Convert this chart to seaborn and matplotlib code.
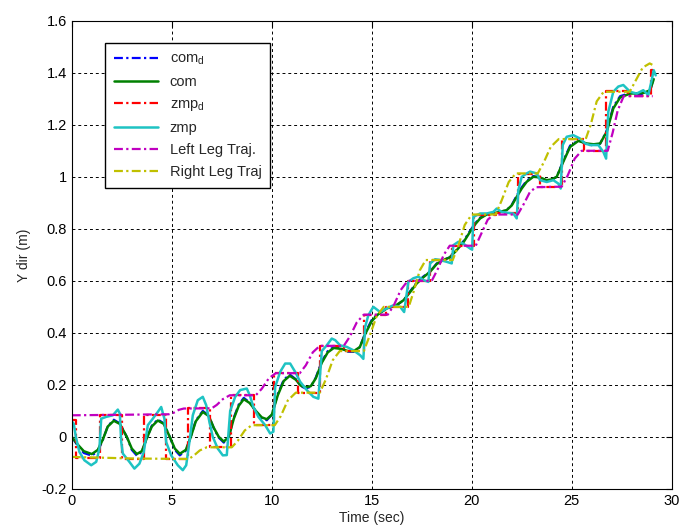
import numpy as np
import matplotlib
matplotlib.use("Agg")
import matplotlib.pyplot as plt
import seaborn as sns

# ---------------------------
# DATA
# ---------------------------
# desired ZMP: switching times and the level held from each time on
zmpd_t = [0, 0.2, 1.4, 2.5, 3.6, 4.7, 5.8, 6.9, 7.95, 9.1, 10.1, 11.3, 12.4, 13.6,
          14.6, 15.7, 16.8, 17.9, 19.0, 20.1, 21.2, 22.3, 23.4, 24.5, 25.6, 26.7,
          27.8, 28.95, 29.1]
zmpd_y = [0.065, -0.08, 0.085, -0.085, 0.085, -0.085, 0.11, -0.04, 0.16, 0.045, 0.245,
          0.17, 0.35, 0.33, 0.47, 0.5, 0.6, 0.68, 0.735, 0.855, 0.86, 1.01, 0.96, 1.145,
          1.1, 1.33, 1.31, 1.41, 1.41]

com_t = [0, 0.3, 0.6, 1.0, 1.3, 1.55, 1.8, 2.1, 2.4, 2.75, 3.0, 3.25, 3.5, 3.75, 4.0,
         4.3, 4.6, 4.9, 5.15, 5.4, 5.7, 5.95, 6.2, 6.55, 6.85, 7.1, 7.35, 7.6, 7.85,
         8.1, 8.35, 8.6, 8.9, 9.2, 9.5, 9.75, 10.0, 10.3, 10.6, 10.9, 11.2, 11.45,
         11.7, 11.95, 12.2, 12.5, 12.8, 13.1, 13.5, 13.8, 14.1, 14.4, 14.7, 15.0, 15.3,
         15.75, 16.2, 16.6, 16.9, 17.25, 17.6, 17.92, 18.25, 18.58, 18.9, 19.25, 19.6,
         19.92, 20.2, 20.42, 20.75, 21.08, 21.4, 21.75, 22.0, 22.25, 22.5, 22.75,
         23.08, 23.4, 23.75, 24.0, 24.25, 24.58, 24.92, 25.33, 25.75, 26.1, 26.42,
         26.75, 27.08, 27.42, 27.92, 28.58, 28.92, 29.1]
com_y = [0.0, -0.03, -0.055, -0.066, -0.05, -0.01, 0.04, 0.062, 0.05, 0.0, -0.045,
         -0.066, -0.055, -0.005, 0.04, 0.063, 0.05, 0.0, -0.045, -0.065, -0.05, 0.0,
         0.06, 0.096, 0.08, 0.035, 0.0, -0.018, 0.0, 0.07, 0.12, 0.145, 0.13, 0.1,
         0.075, 0.068, 0.085, 0.16, 0.215, 0.235, 0.22, 0.197, 0.19, 0.195, 0.225,
         0.285, 0.325, 0.342, 0.338, 0.33, 0.33, 0.345, 0.4, 0.445, 0.47, 0.494,
         0.505, 0.526, 0.555, 0.59, 0.615, 0.635, 0.665, 0.68, 0.69, 0.718, 0.75,
         0.789, 0.82, 0.84, 0.855, 0.859, 0.865, 0.872, 0.89, 0.923, 0.955, 0.981,
         1.0, 0.998, 0.987, 0.99, 1.0, 1.058, 1.115, 1.138, 1.128, 1.125, 1.128,
         1.173, 1.263, 1.305, 1.32, 1.322, 1.333, 1.375]

comd_y = [0.0, -0.035, -0.062, -0.072, -0.055, -0.012, 0.042, 0.066, 0.052, 0.0,
          -0.05, -0.072, -0.058, -0.005, 0.043, 0.067, 0.052, 0.0, -0.05, -0.071,
          -0.053, 0.0, 0.063, 0.1, 0.082, 0.033, -0.003, -0.022, 0.0, 0.074, 0.125,
          0.15, 0.132, 0.098, 0.072, 0.064, 0.085, 0.165, 0.22, 0.24, 0.222, 0.195,
          0.186, 0.193, 0.228, 0.29, 0.33, 0.346, 0.34, 0.328, 0.327, 0.345, 0.405,
          0.45, 0.473, 0.494, 0.503, 0.526, 0.558, 0.594, 0.618, 0.636, 0.667, 0.681,
          0.69, 0.72, 0.754, 0.793, 0.824, 0.843, 0.856, 0.858, 0.864, 0.872, 0.892,
          0.928, 0.96, 0.985, 1.003, 0.997, 0.984, 0.988, 1.0, 1.062, 1.12, 1.14,
          1.126, 1.12, 1.127, 1.178, 1.27, 1.31, 1.322, 1.318, 1.33, 1.38]

zmp_t = [0.0, 0.1, 0.2, 0.38, 0.63, 0.97, 1.22, 1.38, 1.47, 1.72, 2.05, 2.3, 2.4, 2.47,
         2.55, 2.88, 3.13, 3.38, 3.6, 3.8, 4.05, 4.3, 4.47, 4.63, 4.72, 4.97, 5.3, 5.55,
         5.72, 5.88, 6.05, 6.3, 6.55, 6.72, 6.88, 7.05, 7.3, 7.55, 7.75, 7.92, 8.17,
         8.42, 8.75, 8.9, 9.08, 9.33, 9.67, 9.92, 10.08, 10.17, 10.42, 10.67, 10.92,
         11.17, 11.42, 11.75, 12.08, 12.33, 12.5, 12.75, 13.0, 13.17, 13.42, 13.75,
         14.08, 14.42, 14.58, 14.67, 14.83, 15.08, 15.42, 15.75, 16.08, 16.42, 16.62,
         16.83, 17.08, 17.33, 17.58, 17.83, 17.92, 18.17, 18.42, 18.75, 19.0, 19.08,
         19.33, 19.58, 19.92, 20.02, 20.08, 20.42, 20.75, 21.08, 21.25, 21.5, 21.75,
         22.08, 22.25, 22.33, 22.5, 22.75, 22.92, 23.25, 23.42, 23.75, 24.08, 24.33,
         24.45, 24.55, 24.75, 25.08, 25.42, 25.67, 25.92, 26.33, 26.58, 26.72, 26.83,
         27.08, 27.33, 27.58, 27.92, 28.25, 28.58, 28.83, 29.0, 29.1, 29.2]
zmp_y = [0.06, 0.05, 0.0, -0.058, -0.09, -0.109, -0.096, -0.045, 0.07, 0.077, 0.083,
         0.105, 0.09, -0.02, -0.064, -0.096, -0.122, -0.103, -0.058, 0.045, 0.07, 0.096,
         0.115, 0.07, -0.02, -0.071, -0.109, -0.128, -0.109, -0.02, 0.083, 0.141, 0.154,
         0.122, 0.058, 0.0, -0.045, -0.071, -0.07, 0.1, 0.154, 0.18, 0.186, 0.16, 0.115,
         0.077, 0.045, 0.013, 0.02, 0.192, 0.25, 0.282, 0.282, 0.25, 0.212, 0.18, 0.154,
         0.147, 0.33, 0.352, 0.378, 0.372, 0.352, 0.346, 0.333, 0.314, 0.3, 0.423, 0.468,
         0.5, 0.48, 0.494, 0.506, 0.5, 0.48, 0.596, 0.61, 0.616, 0.603, 0.596, 0.667,
         0.683, 0.68, 0.673, 0.667, 0.737, 0.75, 0.743, 0.724, 0.72, 0.846, 0.859, 0.859,
         0.865, 0.878, 0.865, 0.862, 0.859, 0.84, 0.949, 1.0, 1.013, 1.02, 1.013, 0.987,
         0.98, 0.987, 0.974, 0.955, 1.122, 1.154, 1.16, 1.147, 1.128, 1.122, 1.122,
         1.096, 1.07, 1.25, 1.327, 1.347, 1.353, 1.327, 1.32, 1.333, 1.314, 1.372, 1.41,
         1.39]

left_t = [0, 4.85, 5.1, 5.35, 5.6, 7.0, 7.25, 7.55, 7.9, 9.2, 9.5, 9.85, 10.2, 11.4,
          11.7, 12.05, 12.4, 13.6, 13.9, 14.25, 14.6, 15.8, 16.1, 16.45, 16.8, 18.0,
          18.3, 18.6, 18.9, 20.2, 20.5, 20.8, 21.1, 22.3, 22.6, 22.9, 23.2, 24.5, 24.8,
          25.15, 25.5, 26.8, 27.05, 27.3, 27.6, 29.05]
left_y = [0.083, 0.087, 0.093, 0.104, 0.109, 0.11, 0.123, 0.145, 0.16, 0.16, 0.185,
          0.225, 0.245, 0.245, 0.275, 0.325, 0.35, 0.35, 0.385, 0.44, 0.47, 0.47, 0.505,
          0.565, 0.6, 0.6, 0.645, 0.7, 0.735, 0.735, 0.785, 0.835, 0.855, 0.855, 0.895,
          0.94, 0.96, 0.962, 1.005, 1.07, 1.1, 1.1, 1.17, 1.255, 1.31, 1.31]

right_t = [0, 3.0, 5.85, 6.1, 6.4, 6.75, 8.0, 8.3, 8.65, 9.0, 10.15, 10.45, 10.8, 11.2,
           12.4, 12.7, 13.05, 13.4, 14.6, 14.9, 15.25, 15.6, 16.85, 17.1, 17.4, 17.7,
           19.05, 19.35, 19.65, 20.0, 21.2, 21.5, 21.85, 22.2, 23.3, 23.6, 23.95, 24.35,
           25.7, 25.95, 26.25, 26.6, 27.9, 28.2, 28.55, 28.9, 29.05]
right_y = [-0.077, -0.083, -0.085, -0.072, -0.052, -0.04, -0.04, -0.015, 0.025, 0.045,
           0.045, 0.08, 0.14, 0.17, 0.17, 0.22, 0.295, 0.33, 0.33, 0.39, 0.465, 0.5, 0.5,
           0.56, 0.64, 0.68, 0.68, 0.74, 0.815, 0.855, 0.855, 0.91, 0.98, 1.013, 1.013,
           1.055, 1.115, 1.145, 1.145, 1.2, 1.29, 1.327, 1.327, 1.37, 1.42, 1.436, 1.43]

# ---------------------------
# STYLE
# ---------------------------
sns.set_style("white")
plt.rcParams["font.family"] = ["Liberation Sans", "DejaVu Sans"]
plt.rcParams["mathtext.default"] = "regular"

dashdot = (0, (4, 1.5, 1, 1.5))

fig, ax = plt.subplots(figsize=(6.84, 5.32), dpi=100)
fig.subplots_adjust(left=0.105, right=0.982, bottom=0.081, top=0.961)

sns.lineplot(x=com_t, y=comd_y, ax=ax, color="#0000ff", lw=1.6, linestyle=dashdot,
             sort=False, label="com$_d$")
sns.lineplot(x=com_t, y=com_y, ax=ax, color="#008000", lw=1.8, sort=False, label="com")
sns.lineplot(x=zmpd_t, y=zmpd_y, ax=ax, color="#ff0000", lw=1.6, linestyle=dashdot,
             drawstyle="steps-post", sort=False, label="zmp$_d$")
sns.lineplot(x=zmp_t, y=zmp_y, ax=ax, color="#1ec3c3", lw=1.8, sort=False, label="zmp")
sns.lineplot(x=left_t, y=left_y, ax=ax, color="#c000c0", lw=1.6, linestyle=dashdot,
             sort=False, label="Left Leg Traj.")
sns.lineplot(x=right_t, y=right_y, ax=ax, color="#c0c000", lw=1.6, linestyle=dashdot,
             sort=False, label="Right Leg Traj")

ax.set_xlim(0, 30)
ax.set_ylim(-0.2, 1.6)
ax.set_xticks(np.arange(0, 31, 5))
ax.set_yticks(np.arange(-0.2, 1.61, 0.2))
ax.set_yticklabels(["-0.2", "0", "0.2", "0.4", "0.6", "0.8", "1", "1.2", "1.4", "1.6"])
ax.grid(True, color="black", lw=0.7, linestyle=(0, (3, 3)))
ax.tick_params(direction="in", top=True, right=True, length=4, labelsize=10.5,
               colors="black")
for s in ax.spines.values():
    s.set_color("black")
    s.set_linewidth(0.8)
ax.set_xlabel("Time (sec)", fontsize=10, labelpad=2)
ax.set_ylabel("Y dir (m)", fontsize=10, labelpad=8)

ax.legend(loc="upper left", bbox_to_anchor=(0.056, 0.952), fontsize=10.5,
          frameon=True, fancybox=False, framealpha=1, edgecolor="black",
          handlelength=3.0, labelspacing=0.55, borderpad=0.6, borderaxespad=0)

plt.savefig("out.png", dpi=100)
